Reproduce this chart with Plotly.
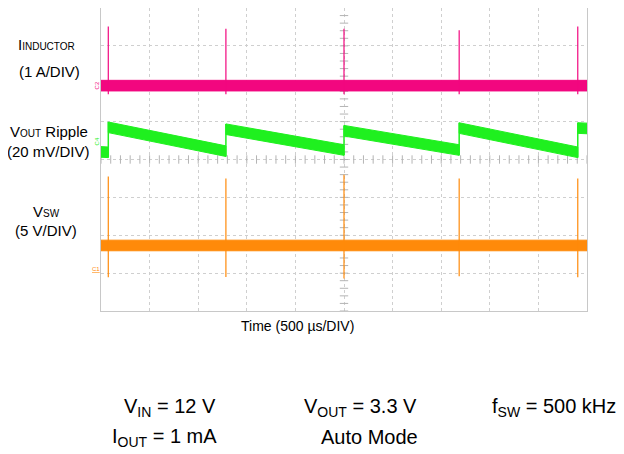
import numpy as np
import plotly.graph_objects as go

# time base: 10 div x 500 us, vertical: 8 div (center = 0)
pulse_t = [75, 1285, 2500, 3685, 4905]          # us, switching bursts

# I_INDUCTOR (pink): flat level plus spikes at each burst
il_level = 1.95
il_spike_top = [3.51, 3.45, 3.45, 3.41, 3.51]
il_spike_bot = [1.72, 1.72, 1.72, 1.72, 1.72]

# VOUT ripple (green): sawtooth, level right after burst -> level before next burst
vo_seg_start = [0, 75, 1285, 2500, 3685, 4905]
vo_seg_end = [75, 1285, 2500, 3685, 4905, 5000]
vo_lvl_start = [0.20, 0.85, 0.80, 0.76, 0.83, 0.83]
vo_lvl_end = [0.19, 0.22, 0.25, 0.25, 0.19, 0.82]

# VSW (orange): flat level plus ringing spikes
sw_level = -2.27
sw_spike_top = [-0.45, -0.50, -0.40, -0.50, -0.50]
sw_spike_bot = [-3.11, -3.10, -3.14, -3.08, -3.11]

PINK = "#f2077f"
GREEN = "#1ff01f"
ORANGE = "#ff8a0a"
HALF = 0.14  # half thickness of the noisy trace band (div)

fig = go.Figure()


def band(x0, x1, y0, y1, color):
    fig.add_trace(go.Scatter(
        x=[x0, x1, x1, x0, x0], y=[y0 + HALF, y1 + HALF, y1 - HALF, y0 - HALF, y0 + HALF],
        mode="lines", fill="toself", fillcolor=color,
        line=dict(color=color, width=1), hoverinfo="skip", showlegend=False))


def spikes(ts, bots, tops, color, width=1.2):
    xs, ys = [], []
    for t, b, tp in zip(ts, bots, tops):
        xs += [t, t, None]
        ys += [b, tp, None]
    fig.add_trace(go.Scatter(x=xs, y=ys, mode="lines", line=dict(color=color, width=width),
                             hoverinfo="skip", showlegend=False))


# graticule ticks along the center lines
gy = np.arange(-4, 4.01, 0.2)
gx = np.arange(0, 5001, 100)
fig.add_trace(go.Scatter(x=[2500] * len(gy), y=gy, mode="markers",
                         marker=dict(symbol="line-ew", size=6, line=dict(color="#b4b4b4", width=1)),
                         hoverinfo="skip", showlegend=False))
fig.add_trace(go.Scatter(x=gx, y=[0] * len(gx), mode="markers",
                         marker=dict(symbol="line-ns", size=6, line=dict(color="#b4b4b4", width=1)),
                         hoverinfo="skip", showlegend=False))

# inductor current
band(0, 5000, il_level, il_level, PINK)
spikes(pulse_t, il_spike_bot, il_spike_top, PINK)

# output ripple
for x0, x1, y0, y1 in zip(vo_seg_start, vo_seg_end, vo_lvl_start, vo_lvl_end):
    band(x0, x1, y0, y1, GREEN)
spikes(pulse_t, [e - HALF for e in vo_lvl_end[:-1]], [s + HALF for s in vo_lvl_start[1:]], GREEN, 1.5)

# switch node
band(0, 5000, sw_level, sw_level, ORANGE)
spikes(pulse_t, sw_spike_bot, sw_spike_top, ORANGE)

# trigger markers
fig.add_trace(go.Scatter(x=[2500], y=[-4.05], mode="markers", cliponaxis=False,
                         marker=dict(symbol="triangle-up", size=7, color=PINK),
                         hoverinfo="skip", showlegend=False))
fig.add_trace(go.Scatter(x=[5035], y=[2.45], mode="markers", cliponaxis=False,
                         marker=dict(symbol="triangle-left", size=6, color=PINK),
                         hoverinfo="skip", showlegend=False))

fig.update_xaxes(range=[0, 5000], dtick=500, showticklabels=False, ticks="",
                 showgrid=True, gridcolor="#cfcfcf", griddash="dot", gridwidth=1,
                 zeroline=False, showline=True, linecolor="#c8c8c8", mirror=True)
fig.update_yaxes(range=[-4, 4], dtick=1, showticklabels=False, ticks="",
                 showgrid=True, gridcolor="#cfcfcf", griddash="dot", gridwidth=1,
                 zeroline=False, showline=True, linecolor="#c8c8c8", mirror=True)

FONT = "Liberation Sans, Arial, sans-serif"


def label(text, x, y, size=15, color="black", xanchor="center", **kw):
    fig.add_annotation(text=text, x=x, y=y, xref="paper", yref="paper", showarrow=False,
                       xanchor=xanchor, yanchor="middle",
                       font=dict(family=FONT, size=size, color=color), **kw)


label("I<span style='font-size:10px'>INDUCTOR</span>", -0.113, 0.878)
label("(1 A/DIV)", -0.105, 0.789)
label("V<span style='font-size:10px'>OUT</span> Ripple", -0.106, 0.594)
label("(20 mV/DIV)", -0.107, 0.525)
label("V<span style='font-size:10px'>SW</span>", -0.113, 0.330)
label("(5 V/DIV)", -0.113, 0.265)
label("Time (500 µs/DIV)", 0.405, -0.05, size=14)

label("V<sub>IN</sub> = 12 V", 0.142, -0.32, size=20)
label("V<sub>OUT</sub> = 3.3 V", 0.534, -0.32, size=20)
label("f<sub>SW</sub> = 500 kHz", 1.064, -0.32, size=20, xanchor="right")
label("I<sub>OUT</sub> = 1 mA", 0.131, -0.416, size=20)
label("Auto Mode", 0.552, -0.416, size=20)

# channel tags
label("C2", -0.008, 0.745, size=6, color=PINK, textangle=-90)
label("C4", -0.008, 0.56, size=6, color=GREEN, textangle=-90)
label("<u>C1</u>", -0.01, 0.14, size=6, color=ORANGE)

# page body adds an 8px offset, so margins are shifted to match the capture
fig.update_layout(width=616, height=446, margin=dict(l=93, r=37, t=0, b=143),
                  plot_bgcolor="white", paper_bgcolor="white", showlegend=False)

fig.write_html("out.html")
